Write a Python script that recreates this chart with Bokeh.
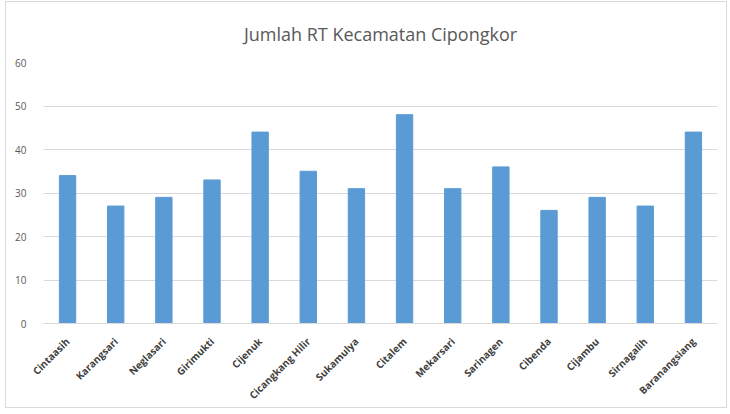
import math
from bokeh.plotting import figure
from bokeh.models import ColumnDataSource, FactorRange, Range1d, SingleIntervalTicker
from bokeh.embed import file_html
from bokeh.resources import INLINE

desa = ["Cintaasih", "Karangsari", "Neglasari", "Girimukti", "Cijenuk",
        "Cicangkang Hilir", "Sukamulya", "Citalem", "Mekarsari", "Sarinagen",
        "Cibenda", "Cijambu", "Sirnagalih", "Baranangsiang"]
jumlah_rt = [34, 27, 29, 33, 44, 35, 31, 48, 31, 36, 26, 29, 27, 44]
title_text = "Jumlah RT Kecamatan Cipongkor"

src = ColumnDataSource(data=dict(desa=desa, rt=jumlah_rt))

p = figure(x_range=FactorRange(*desa, range_padding=0), y_range=Range1d(0, 60),
           width=722, height=407, output_backend="svg", toolbar_location=None,
           title=title_text, min_border_left=37, min_border_right=11,
           min_border_bottom=9, min_border_top=12)
p.styles = {"border": "1px solid #d9d9d9", "margin": "1px 0 0 5px"}

p.vbar(x="desa", top="rt", width=0.34, source=src, color="#5b9bd5")

p.title.align = "center"
p.title.text_font = "Open Sans"
p.title.text_font_style = "normal"
p.title.text_font_size = "18px"
p.title.text_color = "#595959"
p.title.offset = -16
p.title.standoff = 34

p.outline_line_color = None
p.xgrid.grid_line_color = None
p.ygrid.grid_line_color = "#d9d9d9"
p.yaxis.ticker = SingleIntervalTicker(interval=10)
p.yaxis.axis_line_color = None
p.yaxis.major_tick_line_color = None
p.yaxis.minor_tick_line_color = None
p.yaxis.major_label_text_font = "Open Sans"
p.yaxis.major_label_text_font_size = "10px"
p.yaxis.major_label_text_color = "#595959"
p.yaxis.major_label_standoff = 11

p.xaxis.axis_line_color = "#d9d9d9"
p.xaxis.major_tick_line_color = None
p.xaxis.major_label_orientation = math.pi / 4
p.xaxis.major_label_text_font = "Open Sans"
p.xaxis.major_label_text_font_style = "bold"
p.xaxis.major_label_text_font_size = "10px"
p.xaxis.major_label_text_color = "#404040"
p.xaxis.major_label_standoff = 10

open("out.html", "w").write(file_html(p, INLINE))
